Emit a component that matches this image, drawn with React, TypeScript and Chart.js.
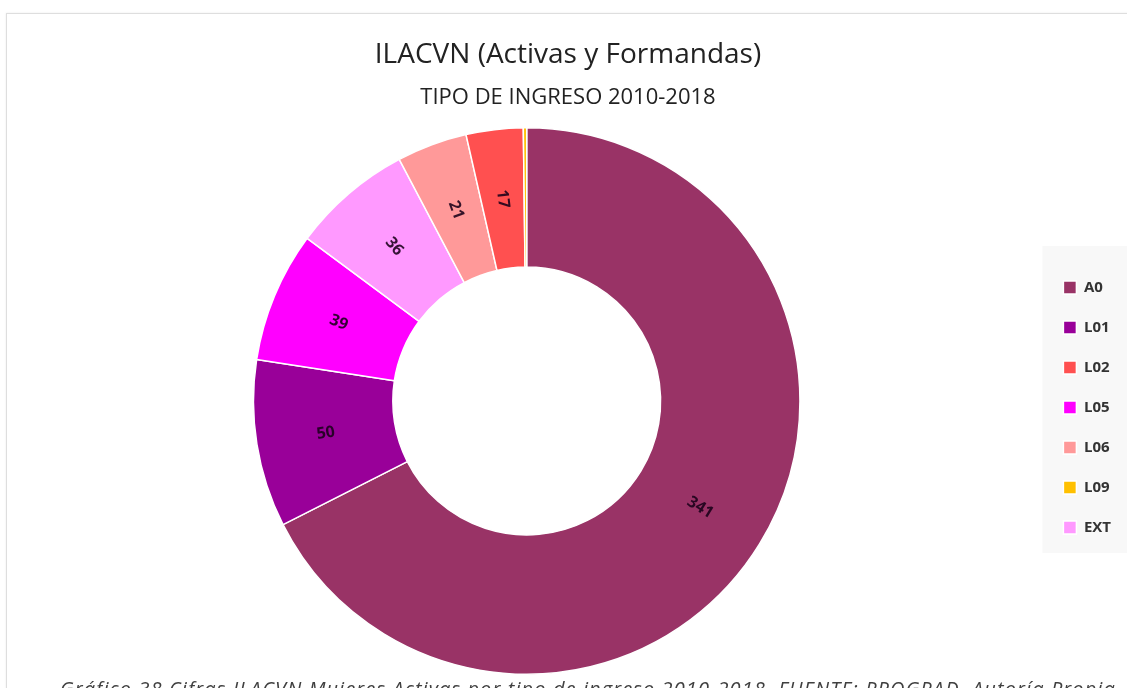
import React, { useEffect, useRef } from 'react';
import { Chart, registerables } from 'chart.js';

Chart.register(...registerables);

// ---- data ----
const categories = ['A0', 'L01', 'L05', 'EXT', 'L06', 'L02', 'L09'];
const values = [341, 50, 39, 36, 21, 17, 1];
const sliceColors = ['#993366', '#990099', '#ff00ff', '#ff99ff', '#ff9999', '#ff5050', '#ffc000'];
const legendOrder = ['A0', 'L01', 'L02', 'L05', 'L06', 'L09', 'EXT'];
const titleText = 'ILACVN (Activas y Formandas)';
const subtitleText = 'TIPO DE INGRESO 2010-2018';
const captionText =
  'Gráfico 38 Cifras ILACVN Mujeres Activas por tipo de ingreso 2010-2018. FUENTE: PROGRAD. Autoría Propia';

const legendBgPlugin = {
  id: 'legendBg',
  beforeDraw(chart: any) {
    const lg = chart.legend;
    if (!lg || !lg.legendHitBoxes || !lg.legendHitBoxes.length) return;
    const hb = lg.legendHitBoxes;
    const left = Math.min(...hb.map((h: any) => h.left)) - 21;
    const top = Math.min(...hb.map((h: any) => h.top)) - 34;
    const bottom = Math.max(...hb.map((h: any) => h.top + h.height)) + 18;
    const ctx = chart.ctx;
    ctx.save();
    ctx.fillStyle = '#f8f8f8';
    ctx.fillRect(left, top, chart.width - left, bottom - top);
    ctx.restore();
  },
};

const sliceLabelPlugin = {
  id: 'sliceLabels',
  afterDatasetsDraw(chart: any) {
    const meta = chart.getDatasetMeta(0);
    const data = chart.data.datasets[0].data as number[];
    const ctx = chart.ctx;
    ctx.save();
    ctx.font = 'bold 16px "Open Sans"';
    ctx.fillStyle = 'rgba(25,0,25,0.88)';
    ctx.textAlign = 'center';
    ctx.textBaseline = 'middle';
    meta.data.forEach((arc: any, i: number) => {
      const v = data[i];
      if (v < 5) return;
      const p = arc.getProps(['x', 'y', 'startAngle', 'endAngle', 'innerRadius', 'outerRadius'], true);
      const mid = (p.startAngle + p.endAngle) / 2;
      const r = (p.innerRadius + p.outerRadius) / 2;
      const x = p.x + Math.cos(mid) * r;
      const y = p.y + Math.sin(mid) * r;
      let rot = mid;
      if (Math.cos(mid) < 0) rot += Math.PI;
      ctx.save();
      ctx.translate(x, y);
      ctx.rotate(rot);
      ctx.fillText(String(v), 0, 0);
      ctx.restore();
    });
    ctx.restore();
  },
};

export default function App() {
  const canvasRef = useRef<HTMLCanvasElement | null>(null);

  useEffect(() => {
    if (!canvasRef.current) return;
    const chart = new Chart(canvasRef.current, {
      type: 'doughnut',
      data: {
        labels: categories,
        datasets: [
          {
            data: values,
            backgroundColor: sliceColors,
            borderColor: '#ffffff',
            borderWidth: 1.5,
            hoverOffset: 0,
          },
        ],
      },
      options: {
        responsive: false,
        animation: false,
        devicePixelRatio: 1,
        cutout: '49%',
        layout: { padding: { top: 0, bottom: 13, left: 15, right: 6 } },
        plugins: {
          title: {
            display: true,
            text: titleText,
            color: '#222',
            font: { family: '"Open Sans"', size: 28, weight: 'normal', lineHeight: 1.2 },
            padding: { top: 38, bottom: 2 },
          },
          subtitle: {
            display: true,
            text: subtitleText,
            color: '#222',
            font: { family: '"Open Sans"', size: 22, weight: 'normal', lineHeight: 1.2 },
            padding: { top: 11, bottom: 16 },
          },
          legend: {
            display: true,
            position: 'right',
            title: {
              display: true,
              text: ' ',
              font: { size: 10, lineHeight: 1.2 },
              padding: { top: 128, bottom: 0 },
            },
            labels: {
              boxWidth: 13,
              boxHeight: 13,
              padding: 25,
              color: '#333',
              font: { family: '"Open Sans"', size: 15, weight: 'bold' },
              sort: (a: any, b: any) => legendOrder.indexOf(a.text) - legendOrder.indexOf(b.text),
            },
          },
          tooltip: { enabled: false },
        },
      },
      plugins: [legendBgPlugin, sliceLabelPlugin],
    });
    return () => chart.destroy();
  }, []);

  return (
    <div
      style={{
        position: 'fixed',
        left: 0,
        top: 0,
        width: 1127,
        height: 688,
        overflow: 'hidden',
        background: '#ffffff',
      }}
    >
      <div
        style={{
          position: 'absolute',
          left: 6,
          top: 13,
          width: 1200,
          height: 800,
          borderTop: '1px solid #dedede',
          borderLeft: '1px solid #dedede',
          boxShadow: '0 0 2px rgba(0,0,0,0.08)',
        }}
      />
      <canvas
        ref={canvasRef}
        width={1127}
        height={688}
        style={{ position: 'absolute', left: 0, top: 0, width: 1127, height: 688 }}
      />
      <div
        style={{
          position: 'absolute',
          left: 60,
          top: 679,
          whiteSpace: 'nowrap',
          fontFamily: '"Open Sans", sans-serif',
          fontStyle: 'italic',
          fontSize: 20,
          lineHeight: '20px',
          letterSpacing: '1.1px',
          color: '#404040',
        }}
      >
        {captionText}
      </div>
    </div>
  );
}
